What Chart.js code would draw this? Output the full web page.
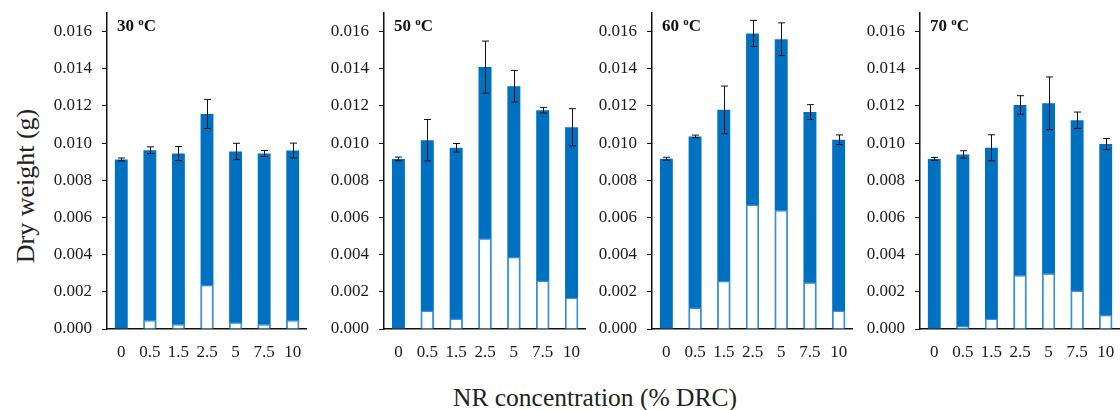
<!DOCTYPE html>
<html>
<head>
<meta charset="utf-8">
<script src="https://cdn.jsdelivr.net/npm/chart.js@4.4.1/dist/chart.umd.min.js"></script>
<style>
    body { margin: 0; background: #fff; }
    #wrap { position: relative; width: 1120px; height: 410px; overflow: hidden; font-family: "Liberation Serif", "Times New Roman", serif; }
    .panel { position: absolute; top: 0; height: 370px; }
    #yTitle { position: absolute; left: 26px; top: 186px; transform: translate(-50%, -50%) rotate(-90deg); font-size: 26px; color: #222; white-space: nowrap; }
    #xTitle { position: absolute; left: 595px; top: 398px; transform: translate(-50%, -50%); font-size: 25.5px; color: #222; white-space: nowrap; }
</style>
</head>
<body>
<div id="wrap">
    <div id="yTitle">Dry weight (g)</div>
    <div id="xTitle">NR concentration (% DRC)</div>
</div>
<script>
// NR concentration categories (% DRC)
const concentrations = ['0', '0.5', '1.5', '2.5', '5', '7.5', '10'];
const temperatures = ['30', '50', '60', '70'];
const yTicks = [0, 0.002, 0.004, 0.006, 0.008, 0.010, 0.012, 0.014, 0.016];

// total dry weight (top of blue bar)
const total30 = [0.00912, 0.00962, 0.00944, 0.01157, 0.00955, 0.00944, 0.00960];
const total50 = [0.00915, 0.01016, 0.00975, 0.01409, 0.01306, 0.01177, 0.01085];
const total60 = [0.00916, 0.01036, 0.01179, 0.01590, 0.01559, 0.01167, 0.01018];
const total70 = [0.00915, 0.00939, 0.00975, 0.01205, 0.01214, 0.01123, 0.00995];

// white (lower) part of each bar
const white30 = [0, 0.00049, 0.00027, 0.00238, 0.00036, 0.00027, 0.00048];
const white50 = [0, 0.00099, 0.00056, 0.00488, 0.00389, 0.00261, 0.00170];
const white60 = [0, 0.00116, 0.00260, 0.00670, 0.00640, 0.00251, 0.00100];
const white70 = [0, 0.00016, 0.00056, 0.00290, 0.00300, 0.00207, 0.00077];

// error bar half-length
const err30 = [0.00008, 0.00018, 0.00038, 0.00078, 0.00044, 0.00016, 0.00040];
const err50 = [0.00010, 0.00111, 0.00023, 0.00140, 0.00085, 0.00015, 0.00100];
const err60 = [0.00008, 0.00007, 0.00128, 0.00070, 0.00088, 0.00040, 0.00026];
const err70 = [0.00008, 0.00020, 0.00070, 0.00050, 0.00142, 0.00044, 0.00030];

const BLUE = '#0070C0';
const SERIF = 'Liberation Serif, Times New Roman, serif';
Chart.defaults.font.family = SERIF;

const panels = [
    { temp: temperatures[0], total: total30, white: white30, err: err30, left: 47, width: 260 },
    { temp: temperatures[1], total: total50, white: white50, err: err50, left: 324, width: 262 },
    { temp: temperatures[2], total: total60, white: white60, err: err60, left: 592, width: 261 },
    { temp: temperatures[3], total: total70, white: white70, err: err70, left: 860, width: 260 }
];

const errorBarPlugin = {
    id: 'errorBars',
    afterDatasetsDraw(chart, args, opts) {
        const ctx = chart.ctx;
        const y = chart.scales.y;
        const meta = chart.getDatasetMeta(1);
        ctx.save();
        ctx.strokeStyle = '#111';
        ctx.lineWidth = 1;
        meta.data.forEach((bar, i) => {
            const v = opts.total[i];
            const e = opts.err[i];
            const yTop = y.getPixelForValue(v + e);
            const yBot = y.getPixelForValue(v - e);
            const x = Math.round(bar.x) + 0.5;
            ctx.beginPath();
            ctx.moveTo(x, yTop);
            ctx.lineTo(x, yBot);
            ctx.moveTo(x - 3.5, yTop);
            ctx.lineTo(x + 3.5, yTop);
            ctx.moveTo(x - 3.5, yBot);
            ctx.lineTo(x + 3.5, yBot);
            ctx.stroke();
        });
        ctx.restore();
    }
};

const panelTitlePlugin = {
    id: 'panelTitle',
    afterDraw(chart, args, opts) {
        const ctx = chart.ctx;
        const x = chart.chartArea.left + 10;
        const y = 27;
        ctx.save();
        ctx.fillStyle = '#111';
        ctx.textBaseline = 'middle';
        ctx.font = 'bold 17px ' + SERIF;
        const head = opts.temp + ' ';
        ctx.fillText(head, x, y);
        let w = ctx.measureText(head).width;
        ctx.font = 'bold 11px ' + SERIF;
        ctx.fillText('o', x + w, y - 5);
        w += ctx.measureText('o').width;
        ctx.font = 'bold 17px ' + SERIF;
        ctx.fillText('C', x + w, y);
        ctx.restore();
    }
};

const wrap = document.getElementById('wrap');

panels.forEach(p => {
    const box = document.createElement('div');
    box.className = 'panel';
    box.style.left = p.left + 'px';
    box.style.width = p.width + 'px';
    const canvas = document.createElement('canvas');
    box.appendChild(canvas);
    wrap.appendChild(box);

    new Chart(canvas.getContext('2d'), {
        type: 'bar',
        data: {
            labels: concentrations,
            datasets: [{
                label: 'white',
                data: p.white,
                backgroundColor: '#ffffff',
                borderColor: '#3A8EDB',
                borderWidth: 1.5,
                borderSkipped: 'bottom'
            }, {
                label: 'total',
                data: p.total,
                backgroundColor: BLUE,
                borderWidth: 0
            }]
        },
        options: {
            responsive: true,
            maintainAspectRatio: false,
            animation: false,
            events: [],
            layout: { padding: { top: 13, right: 0, bottom: 0, left: 0 } },
            datasets: { bar: { categoryPercentage: 1, barPercentage: 0.45 } },
            plugins: {
                legend: { display: false },
                tooltip: { enabled: false },
                errorBars: { total: p.total, err: p.err },
                panelTitle: { temp: p.temp }
            },
            scales: {
                x: {
                    stacked: true,
                    grid: { display: false },
                    border: { display: true, color: '#111', width: 1.5 },
                    ticks: { color: '#1a1a1a', padding: 5, maxRotation: 0, font: { family: SERIF, size: 17 } },
                    afterFit: scale => { scale.height = 41; }
                },
                y: {
                    stacked: false,
                    min: 0,
                    max: 0.017,
                    grid: { drawOnChartArea: false, drawTicks: true, tickLength: 5, color: '#111' },
                    border: { display: true, color: '#111', width: 1.5 },
                    ticks: {
                        color: '#1a1a1a',
                        padding: 10,
                        font: { family: SERIF, size: 17 },
                        callback: v => v.toFixed(3)
                    },
                    afterBuildTicks: scale => { scale.ticks = yTicks.map(v => ({ value: v })); },
                    afterFit: scale => {
                        scale.width = 60;
                        scale.paddingTop = 0;
                        scale.paddingBottom = 0;
                    }
                }
            }
        },
        plugins: [errorBarPlugin, panelTitlePlugin]
    });
});
</script>
</body>
</html>
